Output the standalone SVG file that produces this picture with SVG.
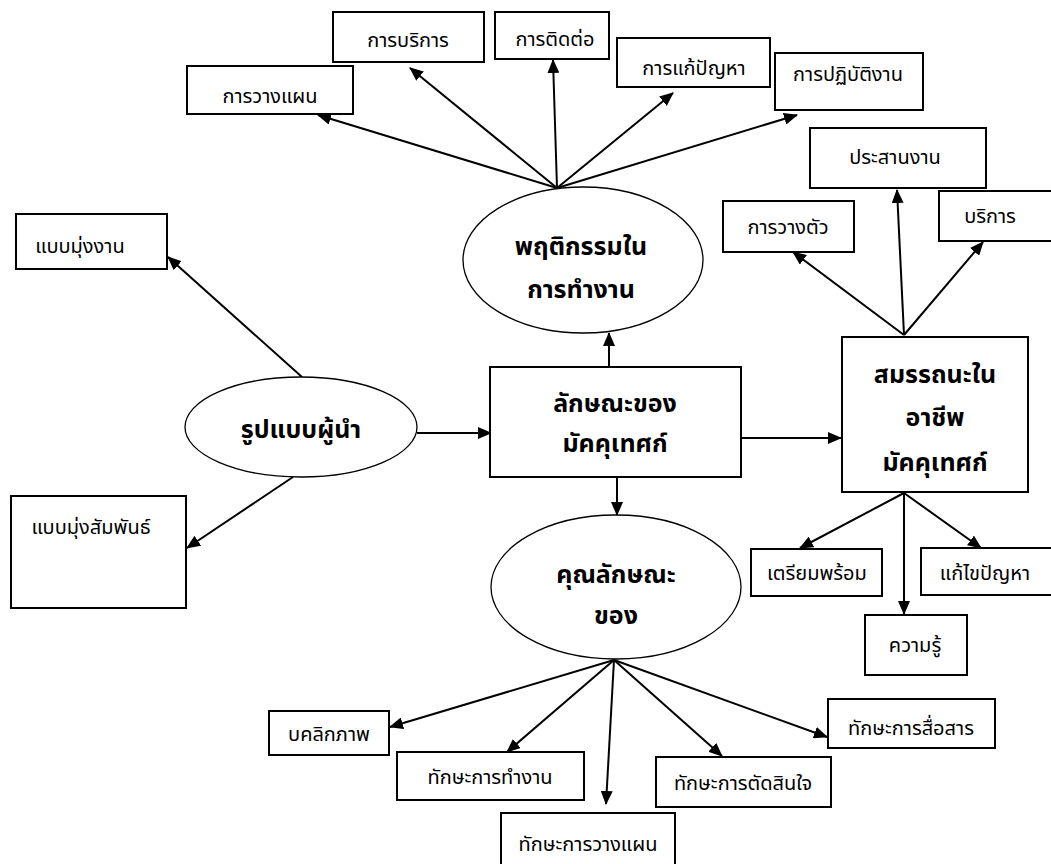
<svg xmlns="http://www.w3.org/2000/svg" width="1051" height="864" viewBox="0 0 1051 864">
<style>
.box{fill:#fff;stroke:#000;stroke-width:2}
.ell{fill:#fff;stroke:#000;stroke-width:1.3}
.t{font-family:"Noto Sans Thai","Noto Sans","DejaVu Sans",sans-serif;font-size:20px;fill:#000;text-anchor:middle}
.b{font-family:"Noto Sans Thai","Noto Sans","DejaVu Sans",sans-serif;font-size:25px;font-weight:bold;fill:#000;text-anchor:middle}
.c{stroke:#000;stroke-width:2;fill:none;marker-end:url(#ah)}
</style>
<defs>
<marker id="ah" markerUnits="userSpaceOnUse" markerWidth="14" markerHeight="12" refX="13" refY="6" orient="auto">
<path d="M0,0 L14,6 L0,12 z" fill="#000"/>
</marker>
</defs>
<rect width="1051" height="864" fill="#fff"/>
<g id="connectors">
<line class="c" x1="557" y1="188" x2="318" y2="115"/>
<line class="c" x1="557" y1="188" x2="410" y2="68"/>
<line class="c" x1="557" y1="188" x2="553" y2="60"/>
<line class="c" x1="557" y1="188" x2="673" y2="93"/>
<line class="c" x1="557" y1="188" x2="797" y2="115"/>
<line class="c" x1="904" y1="335" x2="793" y2="252"/>
<line class="c" x1="904" y1="335" x2="897" y2="190"/>
<line class="c" x1="904" y1="335" x2="983" y2="242"/>
<line class="c" x1="302" y1="377" x2="168" y2="257"/>
<line class="c" x1="293" y1="477" x2="187" y2="548"/>
<line class="c" x1="417" y1="433" x2="491" y2="433"/>
<line class="c" x1="609" y1="367" x2="609" y2="333"/>
<line class="c" x1="617" y1="477" x2="617" y2="515"/>
<line class="c" x1="739" y1="438" x2="841" y2="438"/>
<line class="c" x1="904" y1="493" x2="800" y2="548"/>
<line class="c" x1="904" y1="493" x2="904" y2="614"/>
<line class="c" x1="904" y1="493" x2="981" y2="548"/>
<line class="c" x1="614" y1="660" x2="390" y2="727"/>
<line class="c" x1="614" y1="660" x2="507" y2="752"/>
<line class="c" x1="614" y1="660" x2="606" y2="804"/>
<line class="c" x1="614" y1="660" x2="722" y2="756"/>
<line class="c" x1="614" y1="660" x2="827" y2="737"/>
</g>
<g id="n-plan"><rect class="box" x="187" y="66" width="166" height="48"/><text class="t" x="270" y="103">การวางแผน</text></g>
<g id="n-service"><rect class="box" x="333" y="12" width="151" height="50"/><text class="t" x="408" y="47">การบริการ</text></g>
<g id="n-contact"><rect class="box" x="495" y="12" width="114" height="47"/><text class="t" x="555" y="46">การติดต่อ</text></g>
<g id="n-solve"><rect class="box" x="617" y="38" width="153" height="49"/><text class="t" x="694" y="75">การแก้ปัญหา</text></g>
<g id="n-perform"><rect class="box" x="775" y="53" width="148" height="57"/><text class="t" x="848" y="81">การปฏิบัติงาน</text></g>
<g id="n-coord"><rect class="box" x="810" y="128" width="176" height="60"/><text class="t" x="895" y="164">ประสานงาน</text></g>
<g id="n-posture"><rect class="box" x="723" y="201" width="131" height="51"/><text class="t" x="788" y="234">การวางตัว</text></g>
<g id="n-svc2"><rect class="box" x="939" y="191" width="114" height="50"/><text class="t" x="990" y="223">บริการ</text></g>
<g id="n-task"><rect class="box" x="16" y="214" width="151" height="55"/><text class="t" x="80" y="253">แบบมุ่งงาน</text></g>
<g id="n-rel"><rect class="box" x="11" y="496" width="175" height="112"/><text class="t" x="91" y="534">แบบมุ่งสัมพันธ์</text></g>
<g id="n-behav"><ellipse class="ell" cx="583" cy="260" rx="120" ry="73"/><text class="b" x="581" y="255">พฤติกรรมใน</text><text class="b" x="581" y="298">การทำงาน</text></g>
<g id="n-leader"><ellipse class="ell" cx="301" cy="427" rx="116" ry="50"/><text class="b" x="301" y="438">รูปแบบผู้นำ</text></g>
<g id="n-guide"><rect class="box" x="490" y="367" width="251" height="110"/><text class="b" x="615" y="412">ลักษณะของ</text><text class="b" x="615" y="452">มัคคุเทศก์</text></g>
<g id="n-comp"><rect class="box" x="842" y="337" width="186" height="155"/><text class="b" x="935" y="383">สมรรถนะใน</text><text class="b" x="935" y="426">อาชีพ</text><text class="b" x="935" y="471">มัคคุเทศก์</text></g>
<g id="n-attr"><ellipse class="ell" cx="616" cy="587" rx="125" ry="72"/><text class="b" x="616" y="583">คุณลักษณะ</text><text class="b" x="616" y="624">ของ</text></g>
<g id="n-ready"><rect class="box" x="751" y="549" width="131" height="47"/><text class="t" x="817" y="580">เตรียมพร้อม</text></g>
<g id="n-fix"><rect class="box" x="921" y="548" width="131" height="47"/><text class="t" x="985" y="580">แก้ไขปัญหา</text></g>
<g id="n-know"><rect class="box" x="865" y="615" width="102" height="60"/><text class="t" x="915" y="652">ความรู้</text></g>
<g id="n-person"><rect class="box" x="269" y="711" width="120" height="44"/><text class="t" x="329" y="741">บคลิกภาพ</text></g>
<g id="n-work"><rect class="box" x="397" y="752" width="187" height="48"/><text class="t" x="490" y="784">ทักษะการทำงาน</text></g>
<g id="n-planskill"><rect class="box" x="501" y="813" width="174" height="53"/><text class="t" x="588" y="851">ทักษะการวางแผน</text></g>
<g id="n-decide"><rect class="box" x="656" y="757" width="175" height="50"/><text class="t" x="743" y="790">ทักษะการตัดสินใจ</text></g>
<g id="n-comm"><rect class="box" x="828" y="699" width="167" height="49"/><text class="t" x="911" y="735">ทักษะการสื่อสาร</text></g>
</svg>
